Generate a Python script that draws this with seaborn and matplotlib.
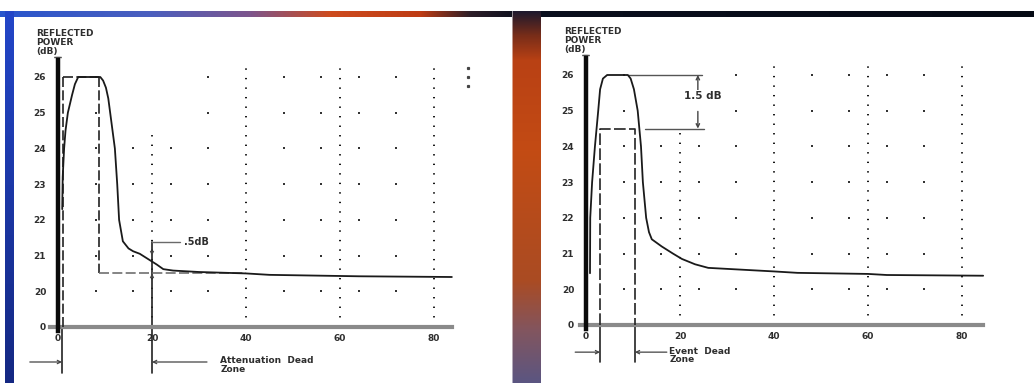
import numpy as np
import pandas as pd
import seaborn as sns
import matplotlib.pyplot as plt
from matplotlib.patches import Arc

# ---------------------------------------------------------------- data
# Attenuation dead zone trace (distance, reflected power in dB)
ATTEN_DIST = [0.9, 1.0, 1.3, 1.6, 2.1, 3.0, 3.6, 4.3, 9.0, 9.6, 10.2, 10.7,
              11.1, 11.6, 12.1, 12.6, 13.0, 13.8, 15.0, 16.0, 17.4, 19.2,
              21.0, 22.4, 24.5, 30.0, 40.0, 45.0, 64.0, 83.8]
ATTEN_POWER = [22.3, 23.2, 24.0, 24.5, 25.0, 25.5, 25.8, 26.0, 26.0, 25.9,
               25.7, 25.4, 25.0, 24.5, 24.0, 23.0, 22.0, 21.4, 21.2, 21.12,
               21.05, 20.9, 20.75, 20.62, 20.58, 20.54, 20.5, 20.46, 20.42,
               20.4]

# Event dead zone trace
EVENT_DIST = [0.85, 0.9, 1.3, 1.9, 2.6, 3.0, 3.6, 4.5, 8.9, 9.5, 10.2, 11.0,
              11.7, 12.1, 12.8, 13.4, 14.0, 16.1, 18.5, 20.4, 23.2, 26.0,
              33.0, 40.0, 45.0, 60.0, 64.0, 84.5]
EVENT_POWER = [20.45, 22.0, 23.0, 24.0, 25.0, 25.6, 25.9, 26.0, 26.0, 25.9,
               25.6, 25.0, 24.0, 23.0, 22.0, 21.6, 21.4, 21.2, 21.0, 20.85,
               20.7, 20.6, 20.55, 20.5, 20.46, 20.43, 20.4, 20.38]

X_TICKS = [0, 20, 40, 60, 80]
X_TICK_LABELS = ["0", "20", "40", "60", "80"]
Y_TICK_LABELS = ["0", "20", "21", "22", "23", "24", "25", "26"]

# attenuation dead zone markers
ATTEN_ZONE = (0.85, 20.0)     # start / end of the dead zone
ATTEN_PULSE = (1.0, 8.7)      # idealised pulse edges
TRACE_LEVEL = 20.5            # backscatter level after the pulse
STEP_DB = 0.5                 # recovery criterion

# event dead zone markers
EVENT_ZONE = (3.0, 10.4)
PEAK_DB = 26.0
DROP_DB = 1.5

AXIS_TITLE = "REFLECTED\nPOWER\n(dB)"

# ---------------------------------------------------------------- layout
W, H = 1034, 383
SX, SY = 4.7, 250 / 7          # pixels per km, pixels per dB
XLIM, YLIM = (-3, 88), (17.5, 26.8)

sns.set_style("white")
plt.rcParams["font.family"] = ["DejaVu Sans"]
INK = "#222222"
TXT = "#2e2e2e"


def y_pos(label):
    # broken axis: the "0" row sits one step below the 20 dB row
    v = float(label)
    return 19.0 if v == 0 else v


def axes_rect(x0, y26):
    lpx = x0 + SX * XLIM[0]
    rpx = x0 + SX * XLIM[1]
    tpx = y26 - SY * (YLIM[1] - 26)
    bpx = y26 + SY * (26 - YLIM[0])
    return [lpx / W, 1 - bpx / H, (rpx - lpx) / W, (bpx - tpx) / H]


def background():
    img = np.ones((H, W, 3))
    xs = np.arange(W)
    ys = np.arange(H)
    # top strip
    stops_x = [0, 150, 250, 330, 420, 470, 520, 1034]
    cols = np.array([[40, 85, 205], [75, 95, 190], [125, 85, 140],
                     [205, 75, 30], [190, 60, 20], [45, 30, 40],
                     [10, 15, 30], [5, 10, 20]]) / 255
    strip = np.stack([np.interp(xs, stops_x, cols[:, c]) for c in range(3)], -1)
    img[11:17, :, :] = strip[None, :, :]
    # left edge
    lcol = np.stack([np.interp(ys, [11, 383], [c0, c1]) for c0, c1 in
                     zip([35, 70, 200], [20, 40, 130])], -1) / 255
    img[11:, 5:14, :] = lcol[11:, None, :]
    # gap between panels
    stops_y = [11, 35, 60, 150, 280, 330, 383]
    gcols = np.array([[30, 25, 45], [120, 45, 25], [185, 65, 20],
                      [195, 75, 20], [170, 75, 35], [130, 85, 95],
                      [90, 85, 130]]) / 255
    gap = np.stack([np.interp(ys, stops_y, gcols[:, c]) for c in range(3)], -1)
    img[11:, 512:541, :] = gap[11:, None, :]
    img[11:, 512, :] = 0.5 * img[11:, 512, :] + 0.5
    return img


def draw_panel(ax, dist, power):
    ax.set_xlim(*XLIM)
    ax.set_ylim(*YLIM)
    ax.set_facecolor("none")

    # dot grid
    gx, gy = [], []
    for v in range(20, 27):
        for d in [8, 16, 24, 32, 48, 56, 64, 72]:
            if d in (16, 24) and v > 24:
                continue
            gx.append(d)
            gy.append(v)
    sns.scatterplot(x=gx, y=gy, ax=ax, s=3, color="#333333", marker="s",
                    linewidth=0, legend=False, zorder=2)
    ax.vlines([20], 19, 24.6, colors="#111111", lw=1.4,
              linestyles=[(0, (0.7, 4.2))], zorder=2)
    ax.vlines([40, 60, 80], 19, 26.25, colors="#111111", lw=1.4,
              linestyles=[(0, (0.7, 4.2))], zorder=2)

    # axes
    for s in ("top", "right"):
        ax.spines[s].set_visible(False)
    ax.spines["left"].set_position(("data", 0))
    ax.spines["bottom"].set_position(("data", 19))
    ax.spines["left"].set_bounds(18.9, 26.48)
    ax.spines["left"].set_linewidth(3.2)
    ax.spines["left"].set_color("#0a0a0a")
    ax.spines["left"].set_zorder(4)
    ax.spines["bottom"].set_bounds(-1.7, 83.8)
    ax.spines["bottom"].set_linewidth(3.0)
    ax.spines["bottom"].set_color("#8a8a8a")
    ax.set_xticks(X_TICKS, X_TICK_LABELS)
    ax.set_yticks([y_pos(t) for t in Y_TICK_LABELS], Y_TICK_LABELS)
    ax.tick_params(axis="y", direction="inout", length=9, width=1.3,
                   color="#8a8a8a", pad=4, labelsize=6.5, labelcolor=TXT)
    ax.tick_params(axis="x", direction="inout", length=6, width=2.0,
                   color="#111111", pad=2, labelsize=6.5, labelcolor=TXT)
    for lab in ax.get_xticklabels() + ax.get_yticklabels():
        lab.set_fontweight("bold")
    ax.add_patch(Arc((0, 26.4), 6.0, 0.3, theta1=10, theta2=170,
                     color="#555555", lw=1.0, clip_on=False))
    ax.text(-4.7, 27.35, AXIS_TITLE, fontsize=6.5, fontweight="bold",
            color=TXT, va="top", ha="left", linespacing=1.05)

    # trace
    sns.lineplot(x=dist, y=power, ax=ax, sort=False, estimator=None,
                 color="#1a1a1a", lw=1.3, zorder=5)


def arrow(ax, start, end, lw=0.9):
    ax.annotate("", xy=end, xytext=start, annotation_clip=False,
                arrowprops=dict(arrowstyle="->", lw=lw, color="#444444",
                                shrinkA=0, shrinkB=0, mutation_scale=6))


fig = plt.figure(figsize=(W / 100, H / 100), dpi=100)
bg = fig.add_axes([0, 0, 1, 1])
bg.imshow(background(), extent=(0, W, H, 0), aspect="auto",
          interpolation="bilinear")
bg.set_axis_off()

# ---------------------------------------------------------------- left panel
axl = fig.add_axes(axes_rect(58, 77))
draw_panel(axl, ATTEN_DIST, ATTEN_POWER)
p0, p1 = ATTEN_PULSE
dash = (0, (6, 2))
axl.plot([p0, p0], [19, PEAK_DB], color=INK, lw=1.2, linestyle=dash, zorder=4)
axl.plot([p0, p1], [PEAK_DB, PEAK_DB], color=INK, lw=1.2, linestyle=dash,
         zorder=4)
axl.plot([p1, p1], [PEAK_DB, TRACE_LEVEL], color=INK, lw=1.2, linestyle=dash,
         zorder=4)
axl.plot([p1, 40], [TRACE_LEVEL, TRACE_LEVEL], color="#707070", lw=1.2,
         linestyle=dash, zorder=4)
z0, z1 = ATTEN_ZONE
axl.plot([z0, z0], [19, 17.71], color=INK, lw=1.2, clip_on=False)
axl.plot([z1, z1], [21.37, 17.71], color=INK, lw=1.2, clip_on=False)
axl.plot([z1, 26], [21.37, 21.37], color="#6a6a6a", lw=1.0)
axl.text(26.8, 21.37, ".5dB", fontsize=7, fontweight="bold", color=TXT,
         va="center", ha="left")
arrow(axl, (z1, 21.3), (z1, TRACE_LEVEL + STEP_DB), lw=0.7)
arrow(axl, (z1, 20.1), (z1, TRACE_LEVEL), lw=0.7)
arrow(axl, (-6.0, 18.02), (z0, 18.02))
arrow(axl, (31.7, 18.02), (z1, 18.02))
axl.text(34.5, 18.05, "Attenuation  Dead", fontsize=6.5, fontweight="bold",
         color=TXT, va="center", ha="left", clip_on=False)
axl.text(34.5, 17.8, "Zone", fontsize=6.5, fontweight="bold", color=TXT,
         va="center", ha="left", clip_on=False)
for v in (26.25, 26.0, 25.75):
    axl.plot([87.2], [v], marker="s", ms=1.3, color="#444444", lw=0,
             clip_on=False)

# ---------------------------------------------------------------- right panel
axr = fig.add_axes(axes_rect(586, 75))
draw_panel(axr, EVENT_DIST, EVENT_POWER)
axr.spines["bottom"].set_bounds(-1.3, 84.5)
e0, e1 = EVENT_ZONE
low = PEAK_DB - DROP_DB
dash_e = (0, (7, 2))
axr.plot([e0, e0, e1, e1], [19, low, low, 19], color=INK, lw=1.2,
         linestyle=dash_e, zorder=4)
axr.plot([e0, e0], [19, 17.96], color=INK, lw=1.2, clip_on=False)
axr.plot([e1, e1], [19, 17.96], color=INK, lw=1.2, clip_on=False)
axr.plot([8.9, 24.7], [PEAK_DB, PEAK_DB], color="#555555", lw=1.0)
axr.plot([12.5, 25.0], [low, low], color="#555555", lw=1.0)
arrow(axr, (23.8, 25.48), (23.8, PEAK_DB), lw=1.0)
arrow(axr, (23.8, 24.98), (23.8, low), lw=1.0)
axr.text(24.9, 25.42, f"{DROP_DB:g} dB", fontsize=7.5, fontweight="bold",
         color=TXT, va="center", ha="center",
         bbox=dict(facecolor="white", edgecolor="none", pad=0.5))
arrow(axr, (-2.3, 18.24), (e0, 18.24))
arrow(axr, (17.2, 18.24), (e1, 18.24))
axr.text(17.7, 18.27, "Event  Dead", fontsize=6.5, fontweight="bold",
         color=TXT, va="center", ha="left", clip_on=False)
axr.text(17.7, 18.02, "Zone", fontsize=6.5, fontweight="bold", color=TXT,
         va="center", ha="left", clip_on=False)

fig.savefig("out.png", dpi=100)
